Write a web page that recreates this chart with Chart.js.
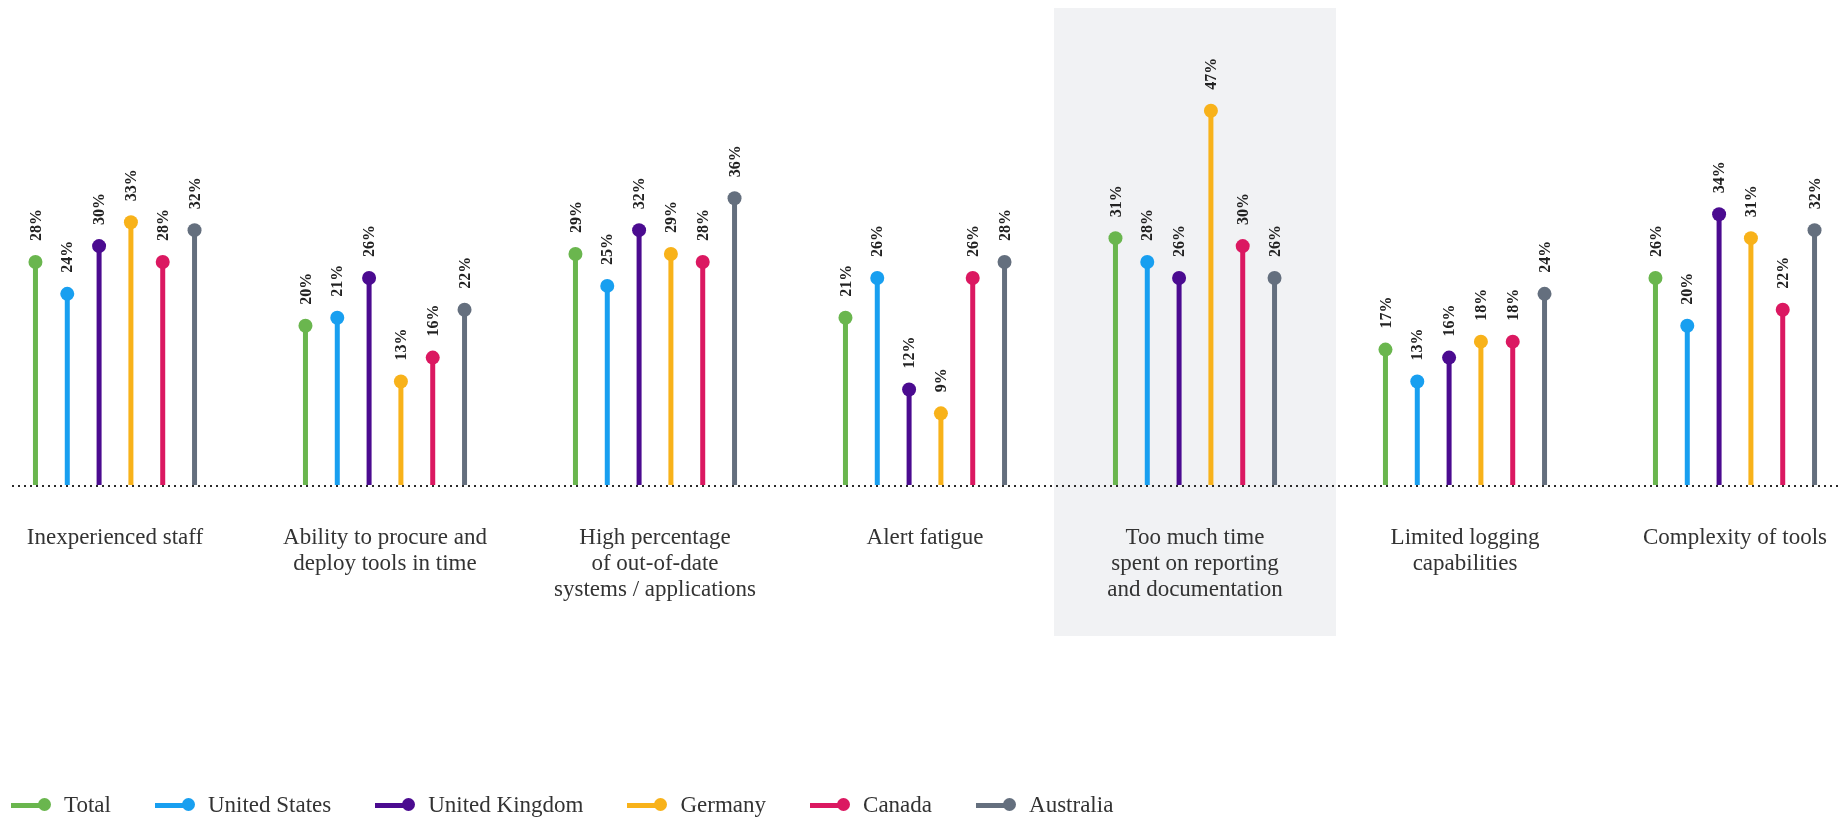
<!DOCTYPE html>
<html>
<head>
<meta charset="utf-8">
<title>Security operations challenges by country</title>
<script src="https://cdn.jsdelivr.net/npm/chart.js@4.4.1/dist/chart.umd.min.js"></script>
<style>
    html, body {
        margin: 0;
        padding: 0;
        background: #ffffff;
    }
    #wrap {
        position: relative;
        width: 1847px;
        height: 817px;
    }
    #legend {
        position: absolute;
        left: 11px;
        top: 792px;
        display: flex;
        font-family: "Liberation Serif", serif;
        font-size: 23px;
        color: #333333;
    }
    .item {
        display: flex;
        align-items: center;
        margin-right: 44px;
        white-space: nowrap;
    }
    .mark {
        position: relative;
        width: 40px;
        height: 14px;
        margin-right: 13px;
    }
    .mark .stem {
        position: absolute;
        left: 0;
        top: 5px;
        width: 34px;
        height: 5px;
    }
    .mark .dot {
        position: absolute;
        right: 0;
        top: 0;
        width: 13px;
        height: 13px;
        border-radius: 50%;
    }
</style>
</head>
<body>
<div id="wrap">
    <canvas id="chart"></canvas>
    <div id="legend"></div>
</div>
<script>
// categories (multi-line labels)
const categories = [
    ['Inexperienced staff'],
    ['Ability to procure and', 'deploy tools in time'],
    ['High percentage', 'of out-of-date', 'systems / applications'],
    ['Alert fatigue'],
    ['Too much time', 'spent on reporting', 'and documentation'],
    ['Limited logging', 'capabilities'],
    ['Complexity of tools']
];

// percentages per country
const total = [28, 20, 29, 21, 31, 17, 26];
const unitedStates = [24, 21, 25, 26, 28, 13, 20];
const unitedKingdom = [30, 26, 32, 12, 26, 16, 34];
const germany = [33, 13, 29, 9, 47, 18, 31];
const canada = [28, 16, 28, 26, 30, 18, 22];
const australia = [32, 22, 36, 28, 26, 24, 32];

const seriesNames = ['Total', 'United States', 'United Kingdom', 'Germany', 'Canada', 'Australia'];
const seriesValues = [total, unitedStates, unitedKingdom, germany, canada, australia];
const seriesColors = ['#6ab64e', '#189ff0', '#4b0b90', '#f8b21a', '#db1861', '#646f7e'];

const highlightIndex = 4;

const serif = '"Liberation Serif", "Times New Roman", serif';

// grey panel behind the highlighted category
const highlightPanel = {
    id: 'highlightPanel',
    beforeDraw(chart) {
        const ctx = chart.ctx;
        const x = chart.scales.x.getPixelForValue(highlightIndex);
        ctx.save();
        ctx.fillStyle = '#f1f2f4';
        ctx.fillRect(x - 141, 8, 282, 628);
        ctx.restore();
    }
};

// dotted zero line across the full width
const dottedBase = {
    id: 'dottedBase',
    afterDatasetsDraw(chart) {
        const ctx = chart.ctx;
        const y = chart.scales.y.getPixelForValue(0);
        ctx.save();
        ctx.strokeStyle = '#2b2b2b';
        ctx.lineWidth = 2;
        ctx.setLineDash([2, 4]);
        ctx.beginPath();
        ctx.moveTo(12, y + 1);
        ctx.lineTo(1840, y + 1);
        ctx.stroke();
        ctx.restore();
    }
};

// round heads on the stems plus the rotated value labels
const lollipopHeads = {
    id: 'lollipopHeads',
    afterDatasetsDraw(chart) {
        const ctx = chart.ctx;
        chart.data.datasets.forEach((ds, i) => {
            const meta = chart.getDatasetMeta(i);
            meta.data.forEach((bar, j) => {
                ctx.save();
                ctx.fillStyle = ds.backgroundColor;
                ctx.beginPath();
                ctx.arc(bar.x, bar.y, 7, 0, Math.PI * 2);
                ctx.fill();

                ctx.translate(bar.x, bar.y - 21);
                ctx.rotate(-Math.PI / 2);
                ctx.fillStyle = '#222222';
                ctx.font = 'bold 16px ' + serif;
                ctx.textAlign = 'left';
                ctx.textBaseline = 'middle';
                ctx.fillText(ds.data[j] + '%', 0, 1);
                ctx.restore();
            });
        });
    }
};

const datasets = seriesNames.map((name, i) => ({
    label: name,
    data: seriesValues[i],
    backgroundColor: seriesColors[i],
    borderWidth: 0,
    maxBarThickness: 5,
    clip: false
}));

new Chart(document.getElementById('chart'), {
    type: 'bar',
    data: {
        labels: categories,
        datasets: datasets
    },
    options: {
        responsive: true,
        maintainAspectRatio: false,
        animation: false,
        layout: {
            padding: { left: 115, right: 112, top: 90, bottom: 0 }
        },
        datasets: {
            bar: {
                categoryPercentage: 0.707,
                barPercentage: 1
            }
        },
        scales: {
            x: {
                offset: false,
                grid: { display: false, drawTicks: false },
                border: { display: false },
                afterFit(scale) {
                    // labels may hang past the plot edges, so no extra side padding
                    scale.height = 332;
                    scale.paddingLeft = 0;
                    scale.paddingRight = 0;
                },
                ticks: {
                    color: '#333333',
                    padding: 40,
                    maxRotation: 0,
                    autoSkip: false,
                    font: { family: serif, size: 23, lineHeight: 1.13 }
                }
            },
            y: {
                display: false,
                min: 0,
                max: 49.6
            }
        },
        plugins: {
            legend: { display: false },
            tooltip: { enabled: false }
        }
    },
    plugins: [highlightPanel, dottedBase, lollipopHeads]
});

// legend below the chart
const legend = document.getElementById('legend');
seriesNames.forEach((name, i) => {
    const item = document.createElement('div');
    item.className = 'item';
    item.innerHTML = '<span class="mark"><span class="stem" style="background:' + seriesColors[i] +
        '"></span><span class="dot" style="background:' + seriesColors[i] + '"></span></span>' + name;
    legend.appendChild(item);
});
</script>
</body>
</html>
